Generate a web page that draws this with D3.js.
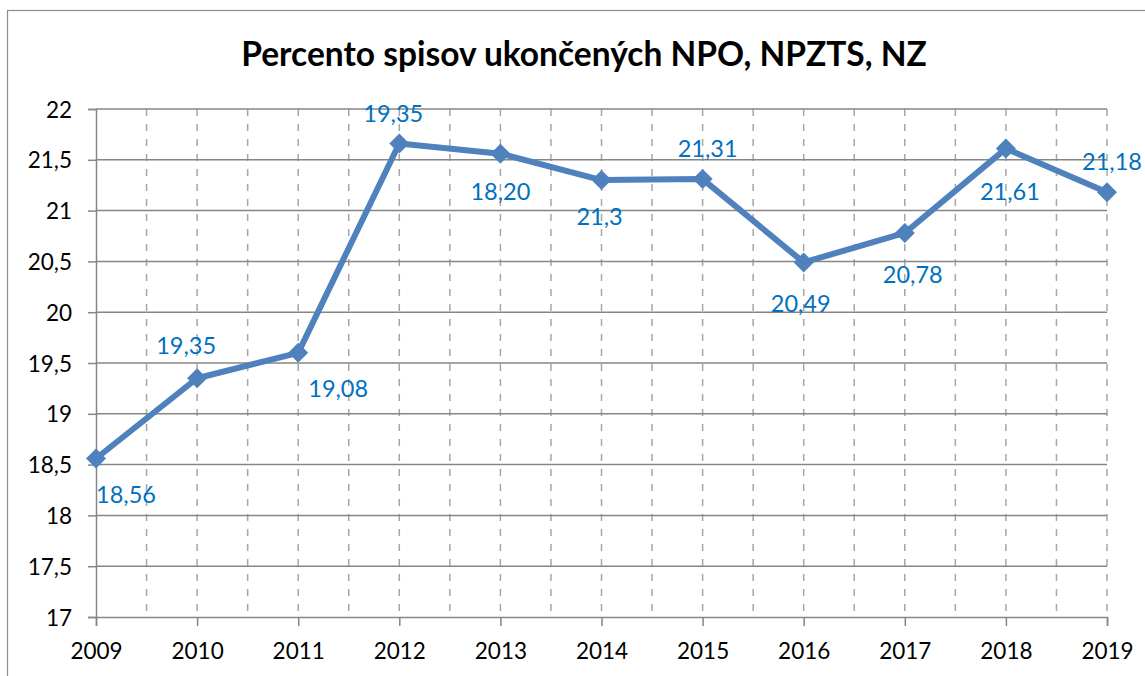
<!DOCTYPE html>
<html>
<head>
<meta charset="utf-8">
<script src="https://cdn.jsdelivr.net/npm/d3@7"></script>
<style>
  html, body { margin: 0; padding: 0; background: #fff; }
  svg { display: block; font-family: Lato, "Open Sans", sans-serif; }
</style>
</head>
<body>
<svg id="chart" width="1145" height="676"></svg>
<script>
// Chart data
const years = ["2009", "2010", "2011", "2012", "2013", "2014", "2015", "2016", "2017", "2018", "2019"];
const values = [18.56, 19.35, 19.60, 21.66, 21.56, 21.30, 21.31, 20.49, 20.78, 21.61, 21.18];
const valueLabels = ["18,56", "19,35", "19,08", "19,35", "18,20", "21,3", "21,31", "20,49", "20,78", "21,61", "21,18"];
const yTicks = [17, 17.5, 18, 18.5, 19, 19.5, 20, 20.5, 21, 21.5, 22];
const title = "Percento spisov ukončených NPO, NPZTS, NZ";

// Label placement around each point: [dx, dy to baseline]
const labelOffsets = [[30, 44], [-11, -24], [40, 44], [-6, -22], [0, 46], [-2, 45],
                      [5, -22], [-3, 50], [8, 50], [4, 51], [5, -22]];

const svg = d3.select("#chart");
const W = 1145, H = 676;
const plot = { left: 96, right: 1107, top: 109, bottom: 617 };

// Outer chart frame
svg.append("rect")
  .attr("x", 7.5).attr("y", 10.5)
  .attr("width", W + 20).attr("height", H + 20)
  .attr("fill", "#fff").attr("stroke", "#8c8c8c").attr("stroke-width", 1.2);

const x = d3.scalePoint().domain(years).range([plot.left, plot.right]);
const y = d3.scaleLinear().domain([17, 22]).range([plot.bottom, plot.top]);

// Vertical dashed gridlines at each category and between categories
const step = x.step();
const vLines = [];
years.forEach((yr, i) => {
  if (i > 0) vLines.push(x(yr));
  if (i < years.length - 1) vLines.push(x(yr) + step / 2);
});
svg.append("g")
  .selectAll("line").data(vLines).join("line")
  .attr("x1", d => d).attr("x2", d => d)
  .attr("y1", plot.top).attr("y2", plot.bottom)
  .attr("stroke", "#a6a6a6").attr("stroke-width", 1.5)
  .attr("stroke-dasharray", "7,8");

// Horizontal gridlines
svg.append("g")
  .selectAll("line").data(yTicks.filter(t => t > 17)).join("line")
  .attr("x1", plot.left).attr("x2", plot.right)
  .attr("y1", d => y(d)).attr("y2", d => y(d))
  .attr("stroke", "#868686").attr("stroke-width", 1.5);

// Axes
const yAxis = svg.append("g")
  .attr("transform", `translate(${plot.left},0)`)
  .call(d3.axisLeft(y).tickValues(yTicks).tickSize(8).tickPadding(16)
    .tickFormat(d => String(d).replace(".", ",")));
const xAxis = svg.append("g")
  .attr("transform", `translate(0,${plot.bottom})`)
  .call(d3.axisBottom(x).tickSize(9).tickPadding(17));

[yAxis, xAxis].forEach(g => {
  g.select(".domain").attr("stroke", "#868686").attr("stroke-width", 1.5);
  g.selectAll(".tick line").attr("stroke", "#868686").attr("stroke-width", 1.5);
  g.selectAll(".tick text").attr("fill", "#000").style("font-size", "22.5px")
    .style("font-family", "Lato, 'Open Sans', sans-serif");
});
yAxis.selectAll(".tick text").attr("dy", "0.36em");

// Series line
const line = d3.line()
  .x((d, i) => x(years[i]))
  .y(d => y(d));
svg.append("path")
  .datum(values)
  .attr("d", line)
  .attr("fill", "none")
  .attr("stroke", "#4f81bd")
  .attr("stroke-width", 6)
  .attr("stroke-linejoin", "round");

// Diamond markers
const diamond = d3.symbol().type(d3.symbolDiamond2).size(255);
svg.append("g")
  .selectAll("path").data(values).join("path")
  .attr("d", diamond)
  .attr("transform", (d, i) => `translate(${x(years[i])},${y(d)})`)
  .attr("fill", "#4f81bd");

// Data labels
svg.append("g")
  .selectAll("text").data(values).join("text")
  .attr("x", (d, i) => x(years[i]) + labelOffsets[i][0])
  .attr("y", (d, i) => y(d) + labelOffsets[i][1])
  .attr("text-anchor", "middle")
  .attr("fill", "#0070c0")
  .style("font-size", "23.5px")
  .text((d, i) => valueLabels[i]);

// Title
svg.append("text")
  .attr("x", 584).attr("y", 66)
  .attr("text-anchor", "middle")
  .attr("fill", "#000")
  .style("font-size", "33.5px")
  .style("font-weight", "bold")
  .text(title);
</script>
</body>
</html>
